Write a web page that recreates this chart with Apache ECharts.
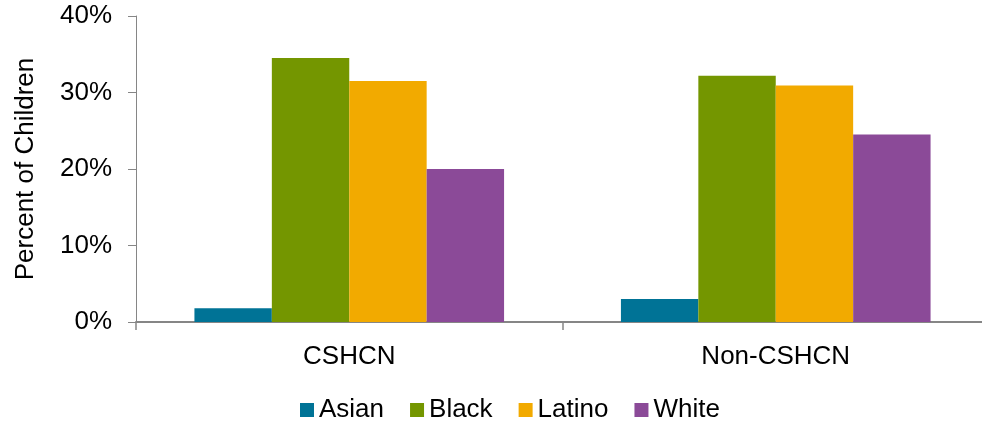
<!DOCTYPE html>
<html>
<head>
<meta charset="utf-8">
<script src="https://cdn.jsdelivr.net/npm/echarts@6/dist/echarts.min.js"></script>
<style>
html,body{margin:0;padding:0;background:#fff;}
#chart{width:982px;height:423px;}
</style>
</head>
<body>
<div id="chart"></div>
<script>
const categories = ['CSHCN', 'Non-CSHCN'];
const seriesNames = ['Asian', 'Black', 'Latino', 'White'];
const asian = [1.8, 3.0];
const black = [34.5, 32.2];
const latino = [31.5, 30.9];
const white = [20.0, 24.5];
const colors = ['#007396', '#749600', '#F2AA00', '#8B4A98'];

const font = '"Liberation Sans", Arial, sans-serif';
const seriesData = [asian, black, latino, white];

const chart = echarts.init(document.getElementById('chart'), null, {renderer: 'canvas'});
chart.setOption({
  animation: false,
  backgroundColor: '#ffffff',
  grid: {left: 136, top: 16, width: 853, height: 306, containLabel: false, outerBoundsMode: 'none'},
  legend: {
    left: 300, top: 397, padding: 0,
    itemWidth: 14, itemHeight: 14, itemGap: 26,
    icon: 'rect',
    textStyle: {fontFamily: font, fontSize: 26, color: '#000'},
    data: seriesNames
  },
  xAxis: {
    type: 'category',
    data: categories,
    axisLine: {lineStyle: {color: '#868686', width: 2}},
    axisTick: {show: true, length: 8, alignWithLabel: false, lineStyle: {color: '#868686', width: 1.5}},
    axisLabel: {fontFamily: font, fontSize: 26, color: '#000', margin: 22}
  },
  yAxis: {
    type: 'value',
    min: 0, max: 40, interval: 10,
    name: 'Percent of Children',
    nameLocation: 'middle',
    nameGap: 97,
    nameRotate: 90,
    nameTextStyle: {fontFamily: font, fontSize: 26, color: '#000'},
    axisLine: {show: true, lineStyle: {color: '#868686', width: 1}},
    axisTick: {show: true, length: 8, inside: false, lineStyle: {color: '#868686', width: 1}},
    splitLine: {show: false},
    axisLabel: {fontFamily: font, fontSize: 26, color: '#000', margin: 24, formatter: '{value}%'}
  },
  series: seriesNames.map((n, i) => ({
    name: n,
    type: 'bar',
    data: seriesData[i],
    barGap: '0%',
    barCategoryGap: '27.4%',
    itemStyle: {color: colors[i]}
  }))
});
</script>
</body>
</html>
